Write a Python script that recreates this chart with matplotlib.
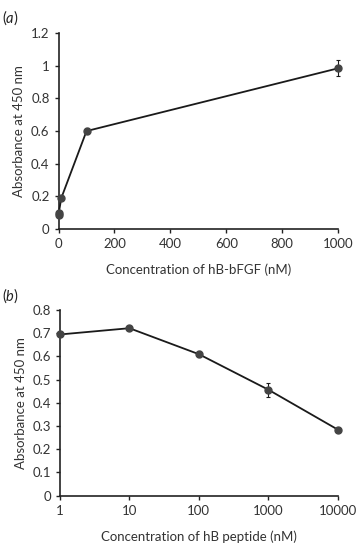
import numpy as np
import matplotlib.pyplot as plt

plt.rcParams['font.family'] = ['Lato', 'DejaVu Sans']
plt.rcParams['mathtext.fontset'] = 'custom'
plt.rcParams['mathtext.it'] = 'Lato:italic'
plt.rcParams['mathtext.rm'] = 'Lato'

# (a) hB-bFGF binding
conc_a = [0, 1, 10, 100, 1000]
abs_a = [0.085, 0.10, 0.19, 0.60, 0.985]
err_a = [0.01, 0.01, 0.01, 0.02, 0.05]

# (b) hB peptide competition
conc_b = [1, 10, 100, 1000, 10000]
abs_b = [0.695, 0.722, 0.61, 0.457, 0.285]
err_b = [0.006, 0.008, 0.012, 0.03, 0.005]

line_c = '#1a1a1a'
mark_c = '#444444'
fs = 9.5

fig = plt.figure(figsize=(3.57, 5.45), dpi=100)
ax1 = fig.add_axes([0.164, 0.580, 0.783, 0.359])
ax2 = fig.add_axes([0.168, 0.0905, 0.778, 0.3405])

for ax, x, y, e in [(ax1, conc_a, abs_a, err_a), (ax2, conc_b, abs_b, err_b)]:
    ax.errorbar(x, y, yerr=e, color=line_c, lw=1.3, marker='o', ms=5,
                mfc=mark_c, mec=mark_c, ecolor=line_c, elinewidth=0.8,
                capsize=1.5, capthick=0.8, clip_on=False, zorder=3)
    for s in ['top', 'right']:
        ax.spines[s].set_visible(False)
    for s in ['left', 'bottom']:
        ax.spines[s].set_linewidth(1.2)
        ax.spines[s].set_color('#222222')
    ax.tick_params(direction='out', length=3, width=1, colors='#222222',
                   labelsize=fs, labelcolor='#333333')
    ax.set_ylabel('Absorbance at 450 nm', fontsize=fs, color='#333333')

ax1.set_xlim(0, 1000)
ax1.set_ylim(0, 1.2)
ax1.set_xticks([0, 200, 400, 600, 800, 1000])
ax1.set_yticks([0, 0.2, 0.4, 0.6, 0.8, 1, 1.2])
ax1.set_yticklabels(['0', '0.2', '0.4', '0.6', '0.8', '1', '1.2'])
ax1.set_xlabel('Concentration of hB-bFGF (nM)', fontsize=fs, color='#333333', labelpad=10)

ax2.set_xscale('log')
ax2.set_xlim(1, 10000)
ax2.set_ylim(0, 0.8)
ax2.set_xticks(conc_b)
ax2.set_xticklabels([str(c) for c in conc_b])
ax2.minorticks_off()
ax2.set_yticks([0, 0.1, 0.2, 0.3, 0.4, 0.5, 0.6, 0.7, 0.8])
ax2.set_yticklabels(['0', '0.1', '0.2', '0.3', '0.4', '0.5', '0.6', '0.7', '0.8'])
ax2.set_xlabel('Concentration of hB peptide (nM)', fontsize=fs, color='#333333', labelpad=10)

fig.text(0.005, 0.968, r'($\mathit{a}$)', fontsize=10.5, color='#222222', va='center')
fig.text(0.005, 0.457, r'($\mathit{b}$)', fontsize=10.5, color='#222222', va='center')

fig.savefig('out.png', dpi=100)
